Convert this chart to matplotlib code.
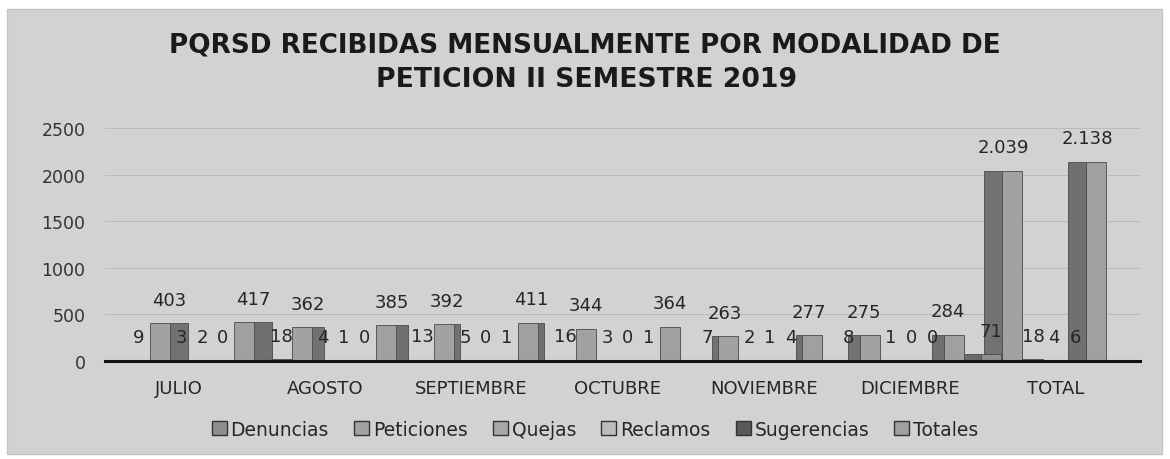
import matplotlib
matplotlib.use("Agg")
import matplotlib.pyplot as plt
from matplotlib.patches import Rectangle, Patch
import numpy as np

plt.rcParams['font.family'] = ['DejaVu Sans']

categories = ["JULIO", "AGOSTO", "SEPTIEMBRE", "OCTUBRE", "NOVIEMBRE", "DICIEMBRE", "TOTAL"]
series_names = ["Denuncias", "Peticiones", "Quejas", "Reclamos", "Sugerencias", "Totales"]
denuncias = [9, 18, 13, 16, 7, 8, 71]
peticiones = [403, 362, 392, 344, 263, 275, 2039]
quejas = [3, 4, 5, 3, 2, 1, 18]
reclamos = [2, 1, 0, 0, 1, 0, 4]
sugerencias = [0, 0, 1, 1, 4, 0, 6]
totales = [417, 385, 411, 364, 277, 284, 2138]
yticks = [0, 500, 1000, 1500, 2000, 2500]

series = [denuncias, peticiones, quejas, reclamos, sugerencias, totales]
front_colors = ["#8f8f8f", "#a2a2a2", "#a8a8a8", "#bdbdbd", "#5a5a5a", "#a0a0a0"]
side_colors = ["#6a6a6a", "#727272", "#7e7e7e", "#959595", "#3a3a3a", "#707070"]

W, H = 1170, 460
fig = plt.figure(figsize=(W / 100, H / 100), dpi=100, facecolor="white")
bg = Rectangle((7 / W, 5 / H), 1155 / W, 445 / H, transform=fig.transFigure,
               facecolor="#d2d2d2", edgecolor="#c4c4c4", lw=1, zorder=-10)
fig.add_artist(bg)

ax = fig.add_axes([105 / W, 98 / H, 1035 / W, 233 / H])
ax.set_facecolor("none")
ax.set_zorder(5)

x = np.arange(len(categories))
slot = 0.148
front_w = 0.141
side_max = 0.127
centre = 3  # perspective centre (no side face visible)
side_w = side_max * (centre - x) / centre  # signed: + right side, - left side

def fmt(v):
    return f"{v:,}".replace(",", ".")

for k, (vals, fc, sc) in enumerate(zip(series, front_colors, side_colors)):
    pos = x + (k - 2.5) * slot
    side_pos = pos + np.sign(side_w) * (front_w / 2 + np.abs(side_w) / 2)
    ax.bar(side_pos, vals, width=np.abs(side_w), color=sc,
           edgecolor="#4a4a4a", lw=0.6, zorder=2)
    ax.bar(pos, vals, width=front_w, color=fc, edgecolor="#4a4a4a", lw=0.6, zorder=3)
    for p, sw, v in zip(pos, side_w, vals):
        lx = p + sw / 2 if v > 100 else p
        ax.annotate(fmt(v), (lx, v), xytext=(0, 17), textcoords="offset points",
                    ha="center", va="center", fontsize=13, color="#262626", zorder=6)

ax.set_xlim(-0.609, 6.680)
ax.set_ylim(0, 2500)
ax.set_yticks(yticks)
ax.set_yticklabels([str(t) for t in yticks], fontsize=12.5, color="#333333")
# category labels follow the perspective spread of the original 3D chart
ax.set_xticks(x * 1.0296 - 0.088)
ax.set_xticklabels(categories, fontsize=13, color="#262626")
ax.tick_params(axis="both", length=0)
ax.tick_params(axis="y", pad=14)
ax.tick_params(axis="x", pad=13)
ax.grid(axis="y", color="#bcbcbc", lw=0.7, zorder=0)
ax.set_axisbelow(True)
for s in ["top", "right", "left"]:
    ax.spines[s].set_visible(False)
ax.spines["bottom"].set_color("#111111")
ax.spines["bottom"].set_linewidth(2.2)
ax.spines["bottom"].set_zorder(4)

fig.text(585 / W, 1 - 45 / H, "PQRSD RECIBIDAS MENSUALMENTE POR MODALIDAD DE",
         ha="center", va="center", fontsize=18.9, fontweight="bold", color="#1a1a1a")
fig.text(587 / W, 1 - 80 / H, "PETICION II SEMESTRE 2019",
         ha="center", va="center", fontsize=19.2, fontweight="bold", color="#1a1a1a")

handles = [Patch(facecolor=fc, edgecolor="#333333", lw=1) for fc in front_colors]
fig.legend(handles, series_names, loc="center", bbox_to_anchor=(595 / W, 1 - 430 / H),
           ncol=6, frameon=False, handlelength=0.8, handleheight=0.8,
           handletextpad=0.2, columnspacing=1.35, labelcolor="#262626",
           prop={"size": 13.5})

fig.savefig("out.png", dpi=100, facecolor="white")
